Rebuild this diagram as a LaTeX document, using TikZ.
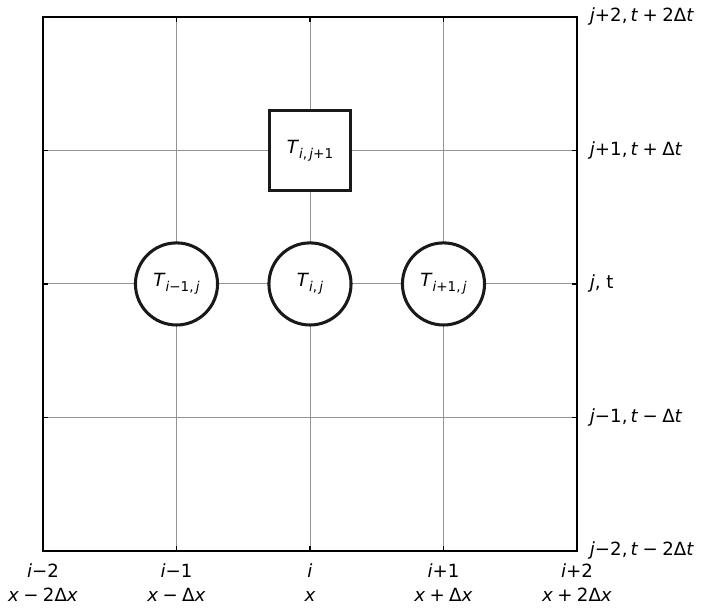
\documentclass[tikz,border=0pt]{standalone}
\usepackage{fontspec}
\setmainfont{DejaVu Sans}
\newcommand{\vv}[1]{\textit{#1}}
\newcommand{\sbs}[1]{\raisebox{-0.28em}{\fontsize{11.5}{11.5}\selectfont #1}}
\newcommand{\op}[1]{\hspace{0.24em}#1\hspace{0.24em}}
\tikzset{
  gridline/.style={gray!85, line width=0.8pt},
  frame/.style={black, line width=1.2pt},
  tick/.style={black, line width=1.2pt},
  point/.style={circle, draw=black!90, line width=2.6pt, fill=white, minimum size=2.46cm, inner sep=0pt, font=\fontsize{15.5}{18}\selectfont},
  target/.style={rectangle, draw=black!90, line width=2.6pt, fill=white, minimum size=2.4cm, inner sep=0pt, font=\fontsize{15.5}{18}\selectfont},
  xlab/.style={anchor=north, align=center, inner sep=0pt, font=\fontsize{15.5}{21.3}\selectfont},
  ylab/.style={anchor=west, inner sep=0pt, font=\fontsize{15.5}{18}\selectfont}
}
\begin{document}
\begin{tikzpicture}[x=4cm,y=4cm]
\useasboundingbox (-0.322,-0.465) rectangle (4.944,4.127);

% grid
\foreach \k in {1,2,3} {
  \draw[gridline] (\k,0) -- (\k,4);
  \draw[gridline] (0,\k) -- (4,\k);
}
\draw[frame] (0,0) rectangle (4,4);

% ticks
\foreach \k in {0,...,4} {
  \draw[tick] (\k,0) -- (\k,0.035);
  \draw[tick] (\k,4) -- (\k,3.965);
  \draw[tick] (0,\k) -- (0.035,\k);
  \draw[tick] (4,\k) -- (3.965,\k);
}

% stencil points
\node[point] (Tim) at (1,2) {\vv{T}\sbs{\vv{i}−1,\,\vv{j}}};
\node[point] (Ti) at (2,2) {\vv{T}\sbs{\vv{i},\,\vv{j}}};
\node[point] (Tip) at (3,2) {\vv{T}\sbs{\vv{i}+1,\,\vv{j}}};
\node[target] (Tn) at (2,3) {\vv{T}\sbs{\vv{i},\,\vv{j}+1}};

% labels along x
\node[xlab] (x0) at (0,-0.09) {\vv{i}−2\\\vv{x}\op{−}2Δ\vv{x}};
\node[xlab] (x1) at (1,-0.09) {\vv{i}−1\\\vv{x}\op{−}Δ\vv{x}};
\node[xlab] (x2) at (2,-0.09) {\vv{i}\\\vv{x}};
\node[xlab] (x3) at (3,-0.09) {\vv{i}+1\\\vv{x}\op{+}Δ\vv{x}};
\node[xlab] (x4) at (4,-0.09) {\vv{i}+2\\\vv{x}\op{+}2Δ\vv{x}};

% labels along t
\node[ylab] (y4) at (4.095,4) {\vv{j}+2,\hspace{0.17em}\vv{t}\op{+}2Δ\vv{t}};
\node[ylab] (y3) at (4.095,3) {\vv{j}+1,\hspace{0.17em}\vv{t}\op{+}Δ\vv{t}};
\node[ylab] (y2) at (4.095,2) {\vv{j}, t};
\node[ylab] (y1) at (4.095,1) {\vv{j}−1,\hspace{0.17em}\vv{t}\op{−}Δ\vv{t}};
\node[ylab] (y0) at (4.095,0) {\vv{j}−2,\hspace{0.17em}\vv{t}\op{−}2Δ\vv{t}};
\end{tikzpicture}
\end{document}
